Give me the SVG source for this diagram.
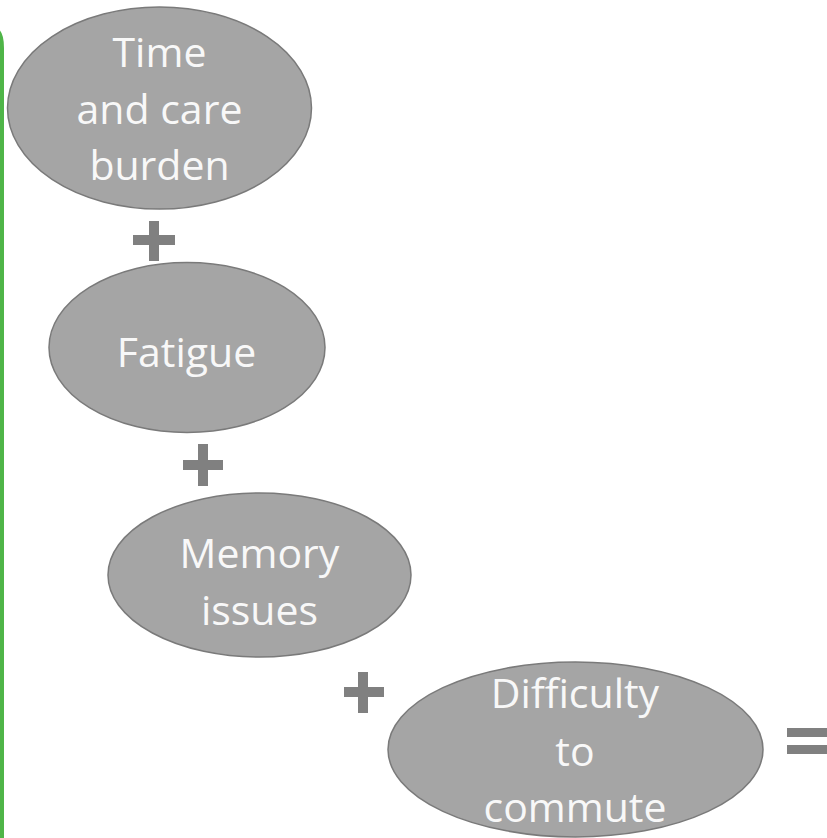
<svg xmlns="http://www.w3.org/2000/svg" width="827" height="838" viewBox="0 0 827 838">
<style>
.node ellipse{fill:#a5a5a5;stroke:#7a7a7a;stroke-width:1.5}
.node text{fill:#f8f8f8;font-family:"Open Sans","Liberation Sans",sans-serif;font-size:41px;text-anchor:middle}
.op{fill:#808080}
</style>
<rect width="827" height="838" fill="#ffffff"/>
<path d="M-4,30 Q2,32 2,48 L2,840" fill="none" stroke="#4fb548" stroke-width="4"/>
<g id="node-time" class="node">
<ellipse cx="159.5" cy="108" rx="152" ry="101"/>
<text x="159.5" y="67">Time</text>
<text x="159.5" y="123.5">and care</text>
<text x="159.5" y="180">burden</text>
</g>
<g id="node-fatigue" class="node">
<ellipse cx="187" cy="347.5" rx="138" ry="85"/>
<text x="186.5" y="367">Fatigue</text>
</g>
<g id="node-memory" class="node">
<ellipse cx="259.5" cy="575" rx="151.5" ry="82"/>
<text x="259.5" y="568">Memory</text>
<text x="259.5" y="625">issues</text>
</g>
<g id="node-commute" class="node">
<ellipse cx="575.5" cy="749.5" rx="187.5" ry="87.5"/>
<text x="575" y="708">Difficulty</text>
<text x="575" y="766">to</text>
<text x="575" y="822">commute</text>
</g>
<g id="connectors">
<path class="op" d="M133,235h16v-14h10v14h16v10h-16v16h-10v-16h-16z"/>
<path class="op" d="M183,460h15v-16h10v16h15v10h-15v16h-10v-16h-15z"/>
<path class="op" d="M344,687h14v-15h10v15h16v10h-16v16h-10v-16h-14z"/>
<rect class="op" x="787" y="728" width="42" height="9"/>
<rect class="op" x="787" y="745" width="42" height="9"/>
</g>
</svg>
